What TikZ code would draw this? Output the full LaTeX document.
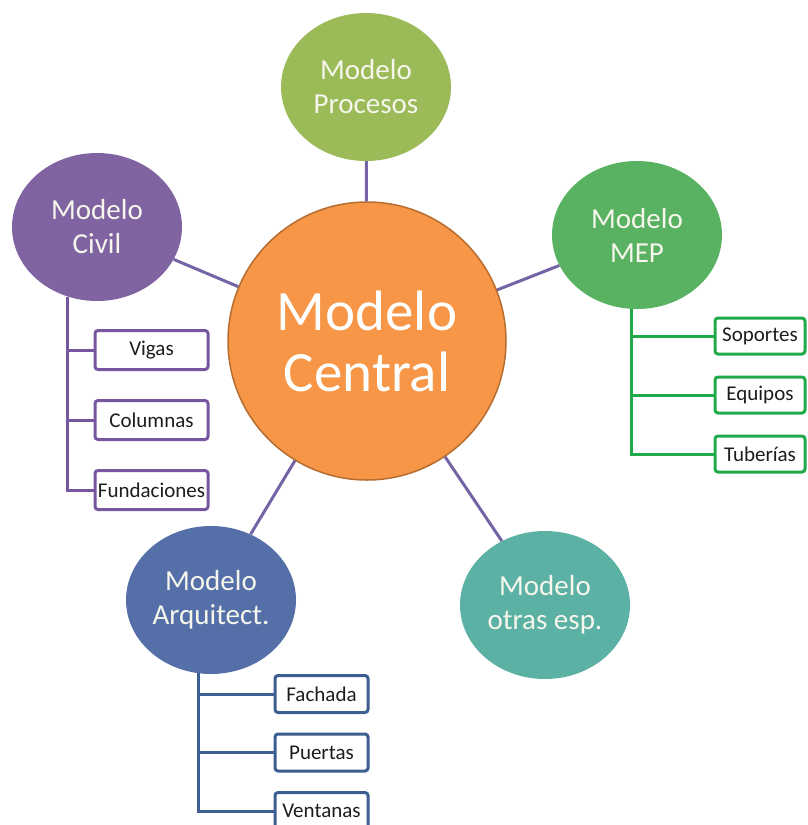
\documentclass[tikz,border=0pt]{standalone}
\usepackage{fontspec}
\setmainfont{Carlito}
\usepackage{tikz}
\usetikzlibrary{positioning,shapes.geometric}
\definecolor{colorcentral}    {RGB}{247,150,70}
\definecolor{colorcentraledge}{RGB}{182,109,49}
\definecolor{colorprocesos}   {RGB}{155,187,89}
\definecolor{colorcivil}      {RGB}{128,100,162}
\definecolor{colormep}        {RGB}{88,178,98}
\definecolor{colorarq}        {RGB}{85,112,169}
\definecolor{colorotras}      {RGB}{92,177,165}
\definecolor{colorlink}       {RGB}{116,100,166}
\definecolor{colorcivilbox}   {RGB}{118,86,158}
\definecolor{colormepbox}     {RGB}{34,170,74}
\definecolor{colorarqbox}     {RGB}{60,94,145}
\definecolor{colortext}       {RGB}{29,29,27}
\definecolor{colorlight}      {RGB}{246,246,236}

\begin{document}
\begin{tikzpicture}[
    x=1pt, y=-1pt,
    font={\fontsize{29}{34}\selectfont},
    model/.style={ellipse,inner sep=0pt,minimum width=170pt,minimum height=148pt,align=center,text=colorlight},
    central/.style={circle,inner sep=0pt,minimum size=278pt,fill=colorcentral,draw=colorcentraledge,line width=1.5pt,align=center,text=white,font={\fontsize{57}{61}\selectfont}},
    part/.style={rectangle,rounded corners=3pt,line width=3pt,fill=white,text=colortext,inner sep=0pt,font={\fontsize{21}{24}\selectfont}},
    civilpart/.style={part,draw=colorcivilbox,minimum width=113pt,minimum height=39pt},
    meppart/.style={part,draw=colormepbox,minimum width=90pt,minimum height=36pt},
    arqpart/.style={part,draw=colorarqbox,minimum width=93pt,minimum height=37pt},
    link/.style={draw=colorlink,line width=3pt},
    tree/.style={line width=3pt},
]
\useasboundingbox (0,0) rectangle (807,825);

    % Models
    \node[central] (central) at (367,341) {Modelo\\Central};
    \node[model,fill=colorprocesos] (procesos) at (366,87)  {Modelo\\Procesos};
    \node[model,fill=colorcivil]    (civil)    at (97,227)  {Modelo\\Civil};
    \node[model,fill=colormep]      (mep)      at (637,235) {Modelo\\MEP};
    \node[model,fill=colorarq]      (arq)      at (211,600) {Modelo\\Arquitect.};
    \node[model,fill=colorotras]    (otras)    at (545,605) {Modelo\\otras esp.};

    % Parts
    \node[civilpart] (vigas) at (151.5,350) {Vigas};
    \node[civilpart, below=28pt of vigas] (columnas) {Columnas};
    \node[civilpart, below=28pt of columnas] (fundaciones) {Fundaciones};

    \node[meppart] (soportes) at (760,336) {Soportes};
    \node[meppart, below=20pt of soportes] (equipos) {Equipos};
    \node[meppart, below=20pt of equipos] (tuberias) {Tuberías};

    \node[arqpart] (fachada) at (321.5,694) {Fachada};
    \node[arqpart, below=18.5pt of fachada] (puertas) {Puertas};
    \node[arqpart, below=18.5pt of puertas] (ventanas) {Ventanas};

    % Model links
    \draw[link] (central) -- (procesos);
    \draw[link] (central) -- (civil);
    \draw[link] (central) -- (mep);
    \draw[link] (central) -- (arq);
    \draw[link] (central) -- (otras);

    % Part trees
    \draw[tree,draw=colorcivilbox] (civil.247) |- (fundaciones.west);
    \draw[tree,draw=colorcivilbox] (civil.247 |- vigas.west) -- (vigas.west);
    \draw[tree,draw=colorcivilbox] (civil.247 |- columnas.west) -- (columnas.west);

    \draw[tree,draw=colormepbox] (mep.266) |- (tuberias.west);
    \draw[tree,draw=colormepbox] (mep.266 |- soportes.west) -- (soportes.west);
    \draw[tree,draw=colormepbox] (mep.266 |- equipos.west) -- (equipos.west);

    \draw[tree,draw=colorarqbox] (arq.260) |- (ventanas.west);
    \draw[tree,draw=colorarqbox] (arq.260 |- fachada.west) -- (fachada.west);
    \draw[tree,draw=colorarqbox] (arq.260 |- puertas.west) -- (puertas.west);

\end{tikzpicture}
\end{document}
